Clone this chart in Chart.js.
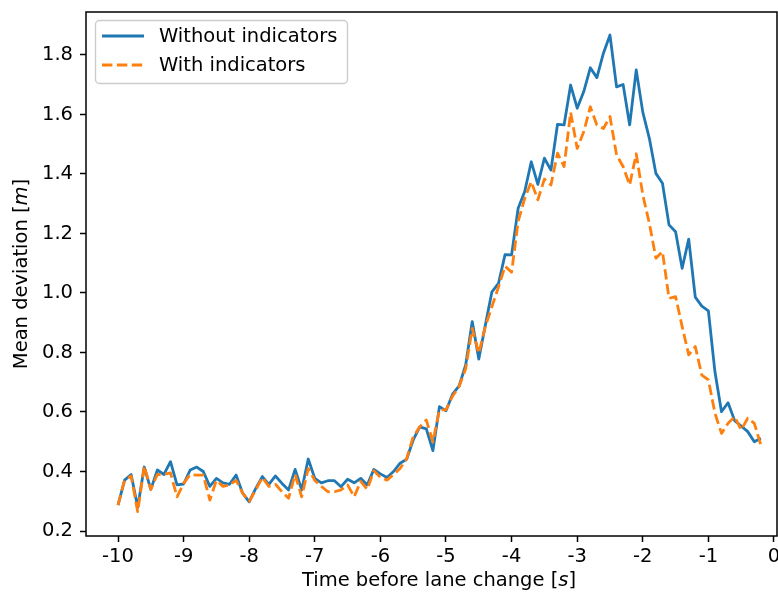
<!DOCTYPE html>
<html>
<head>
<meta charset="utf-8">
<script src="https://cdn.jsdelivr.net/npm/chart.js@4.4.1/dist/chart.umd.min.js"></script>
<style>
  html, body { margin: 0; padding: 0; background: #fff; }
  #wrap { width: 778px; height: 594px; }
</style>
</head>
<body>
<div id="wrap"><canvas id="chart" width="778" height="594"></canvas></div>
<script>
const times = [
  -10.0, -9.9, -9.8, -9.7, -9.6, -9.5, -9.4, -9.3, -9.2, -9.1,
  -9.0, -8.9, -8.8, -8.7, -8.6, -8.5, -8.4, -8.3, -8.2, -8.1,
  -8.0, -7.9, -7.8, -7.7, -7.6, -7.5, -7.4, -7.3, -7.2, -7.1,
  -7.0, -6.9, -6.8, -6.7, -6.6, -6.5, -6.4, -6.3, -6.2, -6.1,
  -6.0, -5.9, -5.8, -5.7, -5.6, -5.5, -5.4, -5.3, -5.2, -5.1,
  -5.0, -4.9, -4.8, -4.7, -4.6, -4.5, -4.4, -4.3, -4.2, -4.1,
  -4.0, -3.9, -3.8, -3.7, -3.6, -3.5, -3.4, -3.3, -3.2, -3.1,
  -3.0, -2.9, -2.8, -2.7, -2.6, -2.5, -2.4, -2.3, -2.2, -2.1,
  -2.0, -1.9, -1.8, -1.7, -1.6, -1.5, -1.4, -1.3, -1.2, -1.1,
  -1.0, -0.9, -0.8, -0.7, -0.6, -0.5, -0.4, -0.3, -0.2
];

const withoutIndicators = [
  0.287, 0.371, 0.390, 0.280, 0.415, 0.340, 0.405, 0.390, 0.433, 0.355,
  0.358, 0.405, 0.415, 0.400, 0.350, 0.377, 0.362, 0.357, 0.388, 0.327,
  0.298, 0.343, 0.383, 0.357, 0.385, 0.360, 0.338, 0.407, 0.338, 0.442,
  0.377, 0.362, 0.369, 0.369, 0.349, 0.374, 0.362, 0.377, 0.355, 0.407,
  0.392, 0.380, 0.400, 0.428, 0.441, 0.506, 0.550, 0.543, 0.470, 0.618,
  0.604, 0.660, 0.688, 0.758, 0.904, 0.778, 0.892, 1.004, 1.032, 1.129,
  1.128, 1.285, 1.341, 1.441, 1.365, 1.453, 1.413, 1.567, 1.565, 1.699,
  1.621, 1.677, 1.757, 1.724, 1.806, 1.867, 1.693, 1.701, 1.565, 1.750,
  1.608, 1.520, 1.402, 1.369, 1.229, 1.206, 1.083, 1.181, 0.986, 0.956,
  0.940, 0.735, 0.601, 0.631, 0.571, 0.553, 0.534, 0.500, 0.512
];

const withIndicators = [
  0.287, 0.370, 0.385, 0.265, 0.418, 0.340, 0.390, 0.390, 0.395, 0.315,
  0.360, 0.390, 0.388, 0.388, 0.304, 0.370, 0.350, 0.355, 0.370, 0.327,
  0.300, 0.338, 0.380, 0.350, 0.357, 0.332, 0.310, 0.390, 0.315, 0.410,
  0.370, 0.350, 0.332, 0.332, 0.338, 0.355, 0.315, 0.367, 0.340, 0.403,
  0.380, 0.371, 0.390, 0.410, 0.443, 0.517, 0.550, 0.573, 0.500, 0.607,
  0.607, 0.653, 0.686, 0.745, 0.881, 0.797, 0.888, 0.954, 1.020, 1.090,
  1.070, 1.240, 1.318, 1.374, 1.313, 1.383, 1.363, 1.470, 1.425, 1.607,
  1.486, 1.542, 1.626, 1.565, 1.553, 1.593, 1.464, 1.425, 1.363, 1.468,
  1.330, 1.234, 1.117, 1.139, 0.982, 0.988, 0.887, 0.792, 0.820, 0.724,
  0.708, 0.596, 0.528, 0.562, 0.584, 0.540, 0.579, 0.562, 0.489
];

const seriesNames = ['Without indicators', 'With indicators'];
const xTicks = [-10, -9, -8, -7, -6, -5, -4, -3, -2, -1, 0];
const yTicks = [0.2, 0.4, 0.6, 0.8, 1.0, 1.2, 1.4, 1.6, 1.8];

const BLUE = '#1f77b4';
const ORANGE = '#ff7f0e';
const FONT = 'DejaVu Sans';
const FS = 19.5;
const LW = 2.8;
const DASH = [10.4, 4.5];

const toPoints = (ys) => ys.map((y, i) => ({ x: times[i], y: y }));

// box, legend and axis titles (with italic units) drawn by hand
const framePlugin = {
  id: 'frame',
  afterDraw(chart) {
    const { ctx, chartArea: a } = chart;
    ctx.save();
    ctx.strokeStyle = '#000';
    ctx.lineWidth = 1.5;
    ctx.strokeRect(a.left, a.top, a.right - a.left, a.bottom - a.top);

    // legend
    const lx = 95.5, ly = 20.5, lw = 252, lh = 63, r = 4;
    ctx.beginPath();
    ctx.moveTo(lx + r, ly);
    ctx.arcTo(lx + lw, ly, lx + lw, ly + lh, r);
    ctx.arcTo(lx + lw, ly + lh, lx, ly + lh, r);
    ctx.arcTo(lx, ly + lh, lx, ly, r);
    ctx.arcTo(lx, ly, lx + lw, ly, r);
    ctx.closePath();
    ctx.fillStyle = 'rgba(255,255,255,0.8)';
    ctx.fill();
    ctx.strokeStyle = '#cccccc';
    ctx.lineWidth = 1.4;
    ctx.stroke();

    const rows = [
      { y: 36, color: BLUE, dash: [] },
      { y: 65, color: ORANGE, dash: DASH }
    ];
    ctx.font = FS + 'px "' + FONT + '"';
    ctx.textBaseline = 'middle';
    ctx.textAlign = 'left';
    rows.forEach((row, i) => {
      ctx.beginPath();
      ctx.setLineDash(row.dash);
      ctx.strokeStyle = row.color;
      ctx.lineWidth = LW;
      ctx.moveTo(102, row.y);
      ctx.lineTo(144, row.y);
      ctx.stroke();
      ctx.setLineDash([]);
      ctx.fillStyle = '#000';
      ctx.fillText(seriesNames[i], 159, row.y + 1);
    });

    // axis titles
    const drawMixed = (parts, cx, cy, rot) => {
      ctx.save();
      ctx.translate(cx, cy);
      ctx.rotate(rot);
      let total = 0;
      parts.forEach(p => {
        ctx.font = (p.italic ? 'italic ' : '') + FS + 'px "' + FONT + '"';
        total += ctx.measureText(p.t).width;
      });
      let x = -total / 2;
      ctx.textAlign = 'left';
      ctx.textBaseline = 'middle';
      ctx.fillStyle = '#000';
      parts.forEach(p => {
        ctx.font = (p.italic ? 'italic ' : '') + FS + 'px "' + FONT + '"';
        ctx.fillText(p.t, x, 0);
        x += ctx.measureText(p.t).width;
      });
      ctx.restore();
    };
    drawMixed([{ t: 'Time before lane change [' }, { t: 's', italic: true }, { t: ']' }],
      439, 581, 0);
    drawMixed([{ t: 'Mean deviation [' }, { t: 'm', italic: true }, { t: ']' }],
      22, 274, -Math.PI / 2);
    ctx.restore();
  }
};

new Chart(document.getElementById('chart'), {
  type: 'line',
  data: {
    datasets: [
      {
        label: seriesNames[0],
        data: toPoints(withoutIndicators),
        borderColor: BLUE,
        borderWidth: LW,
        borderJoinStyle: 'round',
        pointRadius: 0,
        tension: 0,
        fill: false,
        order: 1
      },
      {
        label: seriesNames[1],
        data: toPoints(withIndicators),
        borderColor: ORANGE,
        borderWidth: LW,
        borderDash: DASH,
        borderJoinStyle: 'round',
        pointRadius: 0,
        tension: 0,
        fill: false,
        order: 0
      }
    ]
  },
  options: {
    responsive: false,
    animation: false,
    layout: { autoPadding: false, padding: { left: 0, right: 1, top: 12, bottom: 0 } },
    plugins: { legend: { display: false }, tooltip: { enabled: false } },
    scales: {
      x: {
        type: 'linear',
        min: -10.488,
        max: 0.046,
        afterBuildTicks: (s) => { s.ticks = xTicks.map(v => ({ value: v })); },
        afterFit: (s) => { s.height = 58; s.paddingLeft = 0; s.paddingRight = 0; },
        ticks: {
          color: '#000',
          padding: 3,
          maxRotation: 0,
          font: { family: FONT, size: FS },
          callback: (v) => String(v)
        },
        grid: { drawOnChartArea: false, tickLength: 6, tickColor: '#000', tickWidth: 1.5 },
        border: { display: false }
      },
      y: {
        min: 0.1832,
        max: 1.9445,
        afterBuildTicks: (s) => { s.ticks = yTicks.map(v => ({ value: v })); },
        afterFit: (s) => { s.width = 86; s.paddingTop = 0; s.paddingBottom = 0; },
        ticks: {
          color: '#000',
          padding: 7,
          font: { family: FONT, size: FS },
          callback: (v) => v.toFixed(1)
        },
        grid: { drawOnChartArea: false, tickLength: 6, tickColor: '#000', tickWidth: 1.5 },
        border: { display: false }
      }
    }
  },
  plugins: [framePlugin]
});
</script>
</body>
</html>
